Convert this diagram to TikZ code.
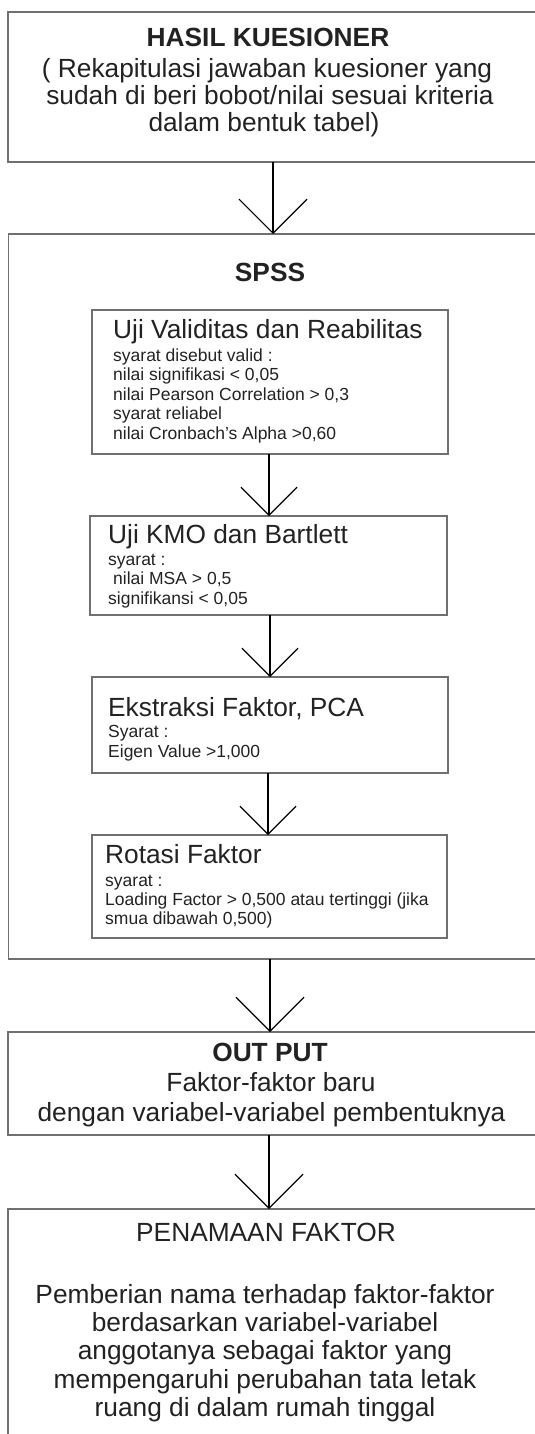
\documentclass[tikz,border=0pt]{standalone}
\usepackage{fontspec}
\setmainfont{Liberation Sans}
\usetikzlibrary{arrows.meta}
\definecolor{ink}{HTML}{222222}
\definecolor{edge}{HTML}{707070}
\tikzset{
  box/.style={draw=edge, line width=1.2pt, inner sep=0pt, outer sep=0pt, anchor=north west},
  big/.style={font=\fontsize{26.3}{27}\selectfont, text=ink, inner sep=0pt},
  bigb/.style={font=\fontsize{26.3}{27}\selectfont\bfseries, text=ink, inner sep=0pt},
  small/.style={font=\fontsize{17.5}{19.5}\selectfont, text=ink, inner sep=0pt, anchor=base west},
  outarr/.style={draw=black, line width=1.2pt, -{Straight Barb[length=34pt,width=68pt]}},
  inarr/.style={draw=black, line width=1.2pt, -{Straight Barb[length=28pt,width=56pt]}},
}
\begin{document}
\begin{tikzpicture}[x=1pt,y=-1pt]
\useasboundingbox (0,0) rectangle (535,1434);
\clip (0,0) rectangle (535,1434);
% outer boxes (their right side runs past the picture's edge)
\node[box, minimum width=600pt, minimum height=150pt] (hasil) at (8,12) {};
\node[box, minimum width=600pt, minimum height=725pt] (spss) at (8.5,234) {};
\node[box, minimum width=600pt, minimum height=103pt] (out) at (8,1032) {};
\node[box, minimum width=600pt, minimum height=300pt] (nama) at (8,1209) {};
% inner boxes
\node[box, minimum width=356pt, minimum height=144pt] (b1) at (92,310) {};
\node[box, minimum width=357pt, minimum height=99pt] (b2) at (90,516) {};
\node[box, minimum width=356pt, minimum height=96pt] (b3) at (92,677) {};
\node[box, minimum width=355pt, minimum height=103pt] (b4) at (92,835) {};
% top box text
\node[bigb, anchor=base] (t0) at (268,46.7) {HASIL KUESIONER};
\node[big, anchor=base] (t1) at (267,78) {( Rekapitulasi jawaban kuesioner yang};
\node[big, anchor=base] (t2) at (270,104.7) {sudah di beri bobot/nilai sesuai kriteria};
\node[big, anchor=base] (t3) at (264,131.4) {dalam bentuk tabel)};
% SPSS
\node[bigb, anchor=base] (st) at (270,281.7) {SPSS};
% box 1
\node[big, anchor=base west] (b1t) at (113,338) {Uji Validitas dan Reabilitas};
\foreach \t [count=\i] in {{syarat disebut valid :},{nilai signifikasi < 0,05},{nilai Pearson Correlation > 0,3},{syarat reliabel},{nilai Cronbach's Alpha >0,60}}
  \node[small] (b1l\i) at (113,{361+(\i-1)*19.5}) {\t};
% box 2
\node[big, anchor=base west] (b2t) at (108,543) {Uji KMO dan Bartlett};
\node[small] (b2l1) at (108,565) {syarat :};
\node[small] (b2l2) at (113,584.5) {nilai MSA > 0,5};
\node[small] (b2l3) at (108,604) {signifikansi < 0,05};
% box 3
\node[big, anchor=base west] (b3t) at (108,716) {Ekstraksi Faktor, PCA};
\node[small] (b3l1) at (108,737) {Syarat :};
\node[small] (b3l2) at (108,757) {Eigen Value >1,000};
% box 4
\node[big, anchor=base west] (b4t) at (105,863) {Rotasi Faktor};
\node[small] (b4l1) at (105,886) {syarat :};
\node[small] (b4l2) at (105,905) {Loading Factor > 0,500 atau tertinggi (jika};
\node[small] (b4l3) at (105,924) {smua dibawah 0,500)};
% output
\node[bigb, anchor=base] (o0) at (270,1061.7) {OUT PUT};
\node[big, anchor=base] (o1) at (271,1091.7) {Faktor-faktor baru};
\node[big, anchor=base] (o2) at (271.5,1121.7) {dengan variabel-variabel pembentuknya};
% penamaan
\node[big, anchor=base] (n0) at (266,1241.7) {PENAMAAN FAKTOR};
\foreach \t [count=\i] in {{Pemberian nama terhadap faktor-faktor},{berdasarkan variabel-variabel},{anggotanya sebagai faktor yang},{mempengaruhi perubahan tata letak},{ruang di dalam rumah tinggal}}
  \node[big, anchor=base] (n\i) at (265,{1303+(\i-1)*28.35}) {\t};
% arrows
\coordinate (c1) at (273,0);
\coordinate (c2) at (269,0);
\coordinate (c3) at (270,0);
\coordinate (c4) at (268,0);
\coordinate (c5) at (270,0);
\coordinate (c6) at (269,0);
\draw[outarr] (hasil.south -| c1) -- (spss.north -| c1);
\draw[inarr] (b1.south -| c2) -- (b2.north -| c2);
\draw[inarr] (b2.south -| c3) -- (b3.north -| c3);
\draw[inarr] (b3.south -| c4) -- (b4.north -| c4);
\draw[outarr] (spss.south -| c5) -- (out.north -| c5);
\draw[outarr] (out.south -| c6) -- (nama.north -| c6);
\end{tikzpicture}
\end{document}
